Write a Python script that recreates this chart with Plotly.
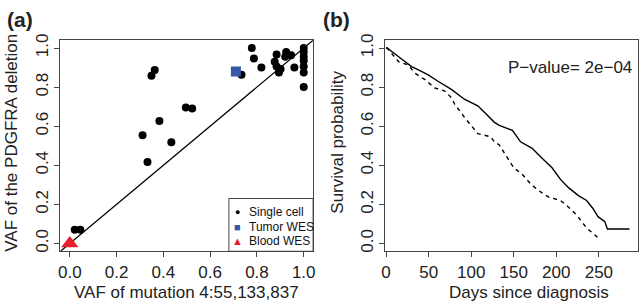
import plotly.graph_objects as go

# ---- Panel (a) data ----
single_x = [0.021, 0.045, 0.734, 0.778, 0.787, 0.819, 0.884, 0.876, 0.884, 0.894, 0.901,
            0.921, 0.925, 0.946, 0.960, 1.0, 1.0, 1.0, 1.0, 1.0, 1.0, 1.0,
            0.349, 0.363, 0.311, 0.332, 0.383, 0.434, 0.496, 0.523]
single_y = [0.070, 0.070, 0.863, 1.0, 0.947, 0.900, 0.967, 0.930, 0.905, 0.875, 0.893,
            0.955, 0.980, 0.963, 0.900, 1.0, 0.98, 0.955, 0.935, 0.905, 0.875, 0.80,
            0.858, 0.888, 0.554, 0.417, 0.626, 0.518, 0.696, 0.691]
tumor_x = [0.710]
tumor_y = [0.880]
blood_x = [0.0]
blood_y = [0.0]
diag = [-0.04, 1.04]
ticks_a = [0.0, 0.2, 0.4, 0.6, 0.8, 1.0]
ticklabels_a = ["0.0", "0.2", "0.4", "0.6", "0.8", "1.0"]
legend_labels = ["Single cell", "Tumor WES", "Blood WES"]

# ---- Panel (b) data ----
solid_days = [0, 1.2, 14.7, 30, 38, 49.5, 61, 76.7, 92, 107.7, 115.5, 127, 133, 138.7, 148.4,
              158, 171.6, 183, 195, 204.7, 214, 226, 235.6, 243, 249, 257, 260, 286]
solid_surv = [1.0, 1.0, 0.955, 0.905, 0.888, 0.863, 0.83, 0.788, 0.738, 0.704, 0.671, 0.621, 0.604,
              0.596, 0.579, 0.52, 0.487, 0.437, 0.387, 0.329, 0.287, 0.245, 0.22, 0.179, 0.137,
              0.112, 0.074, 0.074]
dash_days = [0, 1.2, 14.7, 26, 34, 45.7, 57, 69, 76.7, 80.6, 92, 98, 107.7, 123, 127, 133, 141,
             150, 160, 170, 179.4, 191, 204.7, 212, 224, 228, 235.6, 245, 251]
dash_surv = [1.0, 1.0, 0.93, 0.913, 0.871, 0.838, 0.796, 0.78, 0.746, 0.713, 0.646, 0.613, 0.562,
             0.546, 0.521, 0.504, 0.446, 0.387, 0.354, 0.304, 0.27, 0.237, 0.22, 0.195, 0.145,
             0.12, 0.079, 0.045, 0.02]
ticks_b_x = [0, 50, 100, 150, 200, 250]
ticks_b_y = [0.0, 0.2, 0.4, 0.6, 0.8, 1.0]
ticklabels_b_y = ["0.0", "0.2", "0.4", "0.6", "0.8", "1.0"]
pvalue_text = "P\u2212value= 2e\u221204"

FONT = "Liberation Sans, Arial, Helvetica, sans-serif"
W, H = 642, 307
TICK_SIZE = 17
TITLE_SIZE = 17

fig = go.Figure()

fig.add_trace(go.Scatter(x=diag, y=diag, mode="lines", line=dict(color="black", width=1.2),
                         showlegend=False, hoverinfo="skip", xaxis="x", yaxis="y"))
fig.add_trace(go.Scatter(x=single_x, y=single_y, mode="markers", name=legend_labels[0],
                         marker=dict(color="black", size=8, symbol="circle"), xaxis="x", yaxis="y"))
fig.add_trace(go.Scatter(x=tumor_x, y=tumor_y, mode="markers", name=legend_labels[1],
                         marker=dict(color="#3757a8", size=10, symbol="square"), xaxis="x", yaxis="y"))
fig.add_trace(go.Scatter(x=blood_x, y=blood_y, mode="markers", name=legend_labels[2],
                         marker=dict(color="#e5202a", size=15, symbol="triangle-up"), xaxis="x", yaxis="y"))

fig.add_trace(go.Scatter(x=solid_days, y=solid_surv, mode="lines",
                         line=dict(color="black", width=1.4), xaxis="x2", yaxis="y2"))
fig.add_trace(go.Scatter(x=dash_days, y=dash_surv, mode="lines",
                         line=dict(color="black", width=1.4, dash="4px,4px"), xaxis="x2", yaxis="y2"))

ydom = [1 - 251 / H, 1 - 35 / H]
common = dict(showline=True, linecolor="#444", linewidth=1, mirror=True, ticks="outside",
              ticklen=5, tickcolor="#444", showgrid=False, zeroline=False,
              ticklabelstandoff=0,
              tickfont=dict(family=FONT, size=TICK_SIZE, color="#222"))

annotations = [
    dict(text="<b>(a)</b>", x=1 / W, y=1 - 0 / H, xanchor="left", yanchor="top",
         font=dict(size=21)),
    dict(text="<b>(b)</b>", x=320 / W, y=1 - 0 / H, xanchor="left", yanchor="top",
         font=dict(size=21)),
    dict(text="VAF of mutation 4:55,133,837", x=184 / W, y=1 - 293 / H,
         xanchor="center", yanchor="middle", font=dict(size=TITLE_SIZE)),
    dict(text="VAF of the PDGFRA deletion", x=8 / W, y=1 - 140 / H,
         xanchor="center", yanchor="middle", textangle=-90, font=dict(size=TITLE_SIZE)),
    dict(text="Days since diagnosis", x=530 / W, y=1 - 293 / H,
         xanchor="center", yanchor="middle", font=dict(size=TITLE_SIZE)),
    dict(text="Survival probability", x=337 / W, y=1 - 139 / H,
         xanchor="center", yanchor="middle", textangle=-90, font=dict(size=TITLE_SIZE)),
    dict(text=pvalue_text, x=636 / W, y=1 - 63 / H,
         xanchor="right", yanchor="middle", font=dict(size=TITLE_SIZE)),
]
# manual compact legend (R-style)
leg_syms = [("\u25CF", "black", 9), ("\u25A0", "#3757a8", 11), ("\u25B2", "#e5202a", 11)]
leg_rows = [211, 226, 240]
for (sym, col, sz), label, row in zip(leg_syms, legend_labels, leg_rows):
    annotations.append(dict(text=sym, x=236 / W, y=1 - row / H, xanchor="center",
                            yanchor="middle", font=dict(size=sz, color=col)))
    annotations.append(dict(text=label, x=245 / W, y=1 - row / H, xanchor="left",
                            yanchor="middle", font=dict(size=12, color="#111")))
for a in annotations:
    a.update(xref="paper", yref="paper", showarrow=False)
    a["font"].setdefault("family", FONT)

fig.update_layout(
    width=W, height=H, margin=dict(l=0, r=0, t=0, b=0),
    paper_bgcolor="white", plot_bgcolor="white", showlegend=False,
    font=dict(family=FONT, color="#222"),
    xaxis=dict(domain=[57 / W, 312 / W], range=[-0.04, 1.04], tickvals=ticks_a,
               ticktext=ticklabels_a, anchor="y", **common),
    yaxis=dict(domain=ydom, range=[-0.04, 1.04], tickvals=ticks_a, ticktext=ticklabels_a,
               tickangle=-90, anchor="x", **common),
    xaxis2=dict(domain=[385 / W, 640 / W], range=[-0.8, 296], tickvals=ticks_b_x,
                anchor="y2", **common),
    yaxis2=dict(domain=ydom, range=[-0.04, 1.04], tickvals=ticks_b_y, ticktext=ticklabels_b_y,
                tickangle=-90, anchor="x2", **common),
    shapes=[dict(type="rect", xref="paper", yref="paper", x0=227 / W, x1=312 / W,
                 y0=1 - 251 / H, y1=1 - 197 / H, line=dict(color="#444", width=1),
                 fillcolor="white", layer="below")],
    annotations=annotations,
)

fig.write_html("out.html", config={"displayModeBar": False},
               post_script="document.body.style.margin='0';document.body.style.overflow='hidden';")
